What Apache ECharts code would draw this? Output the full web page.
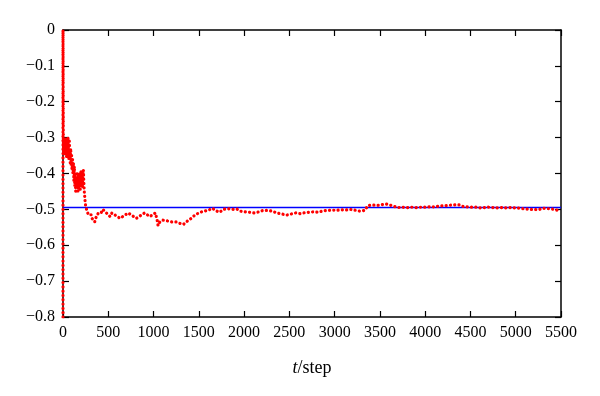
<!DOCTYPE html>
<html><head><meta charset="utf-8">
<script src="https://cdn.jsdelivr.net/npm/echarts@6/dist/echarts.min.js"></script>
<style>html,body{margin:0;padding:0;background:#fff}#c{width:600px;height:396px}</style>
</head><body><div id="c"></div>
<script>
// t (steps) and value of the red dotted trace
const tSteps = [0,0,4,8,12,16,20,25,30,35,40,45,50,55,60,65,70,75,80,85,90,95,100,105,110,115,120,125,130,135,140,145,150,155,160,165,170,175,180,185,190,195,200,205,210,215,220,225,230,235,240,245,250,260,270,280,290,300,310,320,330,340,350,360,370,380,390,400,420,440,460,480,500,520,540,570,600,630,660,690,720,750,780,810,840,870,900,930,960,990,1020,1040,1050,1070,1100,1150,1200,1250,1300,1330,1360,1400,1430,1460,1500,1550,1600,1650,1700,1730,1770,1820,1870,1920,1960,2010,2060,2110,2160,2210,2260,2310,2360,2420,2470,2520,2570,2620,2670,2720,2770,2820,2870,2920,2970,3020,3070,3120,3170,3220,3280,3330,3370,3420,3470,3520,3570,3610,3660,3700,3750,3800,3850,3900,3950,4000,4050,4100,4150,4200,4250,4300,4350,4390,4420,4460,4510,4560,4600,4650,4700,4750,4800,4850,4900,4950,5000,5050,5100,5150,5200,5250,5300,5350,5400,5450,5500];
const traceValues = [-0.8,0,-0.32,-0.345,-0.30,-0.35,-0.31,-0.34,-0.30,-0.33,-0.355,-0.31,-0.34,-0.30,-0.325,-0.36,-0.31,-0.345,-0.37,-0.33,-0.38,-0.35,-0.39,-0.36,-0.40,-0.37,-0.42,-0.38,-0.435,-0.40,-0.45,-0.41,-0.44,-0.395,-0.43,-0.45,-0.405,-0.44,-0.40,-0.425,-0.445,-0.41,-0.39,-0.43,-0.40,-0.44,-0.41,-0.39,-0.425,-0.45,-0.465,-0.48,-0.49,-0.50,-0.505,-0.515,-0.51,-0.52,-0.515,-0.525,-0.52,-0.53,-0.535,-0.525,-0.53,-0.52,-0.51,-0.505,-0.51,-0.50,-0.505,-0.51,-0.515,-0.52,-0.51,-0.515,-0.52,-0.525,-0.52,-0.515,-0.51,-0.515,-0.52,-0.525,-0.52,-0.515,-0.51,-0.515,-0.52,-0.515,-0.51,-0.53,-0.545,-0.535,-0.53,-0.532,-0.535,-0.535,-0.54,-0.542,-0.535,-0.528,-0.522,-0.515,-0.51,-0.505,-0.503,-0.497,-0.505,-0.508,-0.5,-0.498,-0.5,-0.499,-0.505,-0.507,-0.508,-0.51,-0.507,-0.503,-0.503,-0.505,-0.51,-0.513,-0.516,-0.513,-0.51,-0.512,-0.509,-0.508,-0.507,-0.508,-0.504,-0.503,-0.502,-0.503,-0.501,-0.502,-0.5,-0.502,-0.505,-0.503,-0.489,-0.488,-0.489,-0.487,-0.485,-0.488,-0.492,-0.495,-0.494,-0.495,-0.494,-0.495,-0.494,-0.494,-0.493,-0.493,-0.491,-0.49,-0.489,-0.488,-0.487,-0.488,-0.492,-0.493,-0.494,-0.494,-0.496,-0.495,-0.494,-0.495,-0.496,-0.495,-0.496,-0.495,-0.496,-0.497,-0.499,-0.5,-0.5,-0.501,-0.497,-0.498,-0.499,-0.502,-0.503];
// blue reference line
const refT = [0, 5500];
const refValues = [-0.495, -0.495];
// axis ticks
const xTicks = [0,500,1000,1500,2000,2500,3000,3500,4000,4500,5000,5500];
const yTicks = [0,-0.1,-0.2,-0.3,-0.4,-0.5,-0.6,-0.7,-0.8];

const chart = echarts.init(document.getElementById('c'), null, {renderer:'canvas'});
const FONT = '"Liberation Serif","DejaVu Serif",serif';
const fmtY = v => Math.abs(v) < 1e-9 ? '0' : (v < 0 ? '\u2212' + Math.abs(v).toFixed(1) : v.toFixed(1));
const fmtX = v => String(Math.round(v));
const axisLineStyle = {show:true, onZero:false, lineStyle:{color:'#000', width:1.5}};
const tick = {show:true, inside:true, length:6, lineStyle:{color:'#000', width:1.2}};
chart.setOption({
  animation:false,
  backgroundColor:'#fff',
  grid:{left:63, right:39, top:30, bottom:79, show:false},
  xAxis:[{
    type:'value', position:'bottom', min:xTicks[0], max:xTicks[xTicks.length-1], interval:500,
    axisLine:axisLineStyle, axisTick:tick,
    axisLabel:{color:'#000', fontFamily:FONT, fontSize:16, margin:8, formatter:fmtX},
    splitLine:{show:false},
    name:'{i|t}/step', nameLocation:'middle', nameGap:42,
    nameTextStyle:{color:'#000', fontFamily:FONT, fontSize:18,
      rich:{i:{fontStyle:'italic', fontFamily:FONT, fontSize:18, color:'#000'}}}
  },{
    type:'value', position:'top', min:xTicks[0], max:xTicks[xTicks.length-1], interval:500,
    axisLine:axisLineStyle, axisTick:tick,
    axisLabel:{show:false}, splitLine:{show:false}
  }],
  yAxis:[{
    type:'value', position:'left', min:yTicks[yTicks.length-1], max:yTicks[0], interval:0.1,
    axisLine:axisLineStyle, axisTick:tick,
    axisLabel:{color:'#000', fontFamily:FONT, fontSize:16, margin:8, formatter:fmtY},
    splitLine:{show:false}
  },{
    type:'value', position:'right', min:yTicks[yTicks.length-1], max:yTicks[0], interval:0.1,
    axisLine:axisLineStyle, axisTick:tick,
    axisLabel:{show:false}, splitLine:{show:false}
  }],
  series:[{
    type:'line', xAxisIndex:0, yAxisIndex:0,
    data: refT.map((t,i)=>[t, refValues[i]]),
    showSymbol:false, lineStyle:{color:'#0000ff', width:1.5}, z:2
  },{
    type:'line', xAxisIndex:0, yAxisIndex:0,
    data: tSteps.map((t,i)=>[t, traceValues[i]]),
    showSymbol:false,
    lineStyle:{color:'#ff0000', width:3.2, type:[0.1,4.2], cap:'round', join:'round'},
    z:3
  }]
});
</script></body></html>
